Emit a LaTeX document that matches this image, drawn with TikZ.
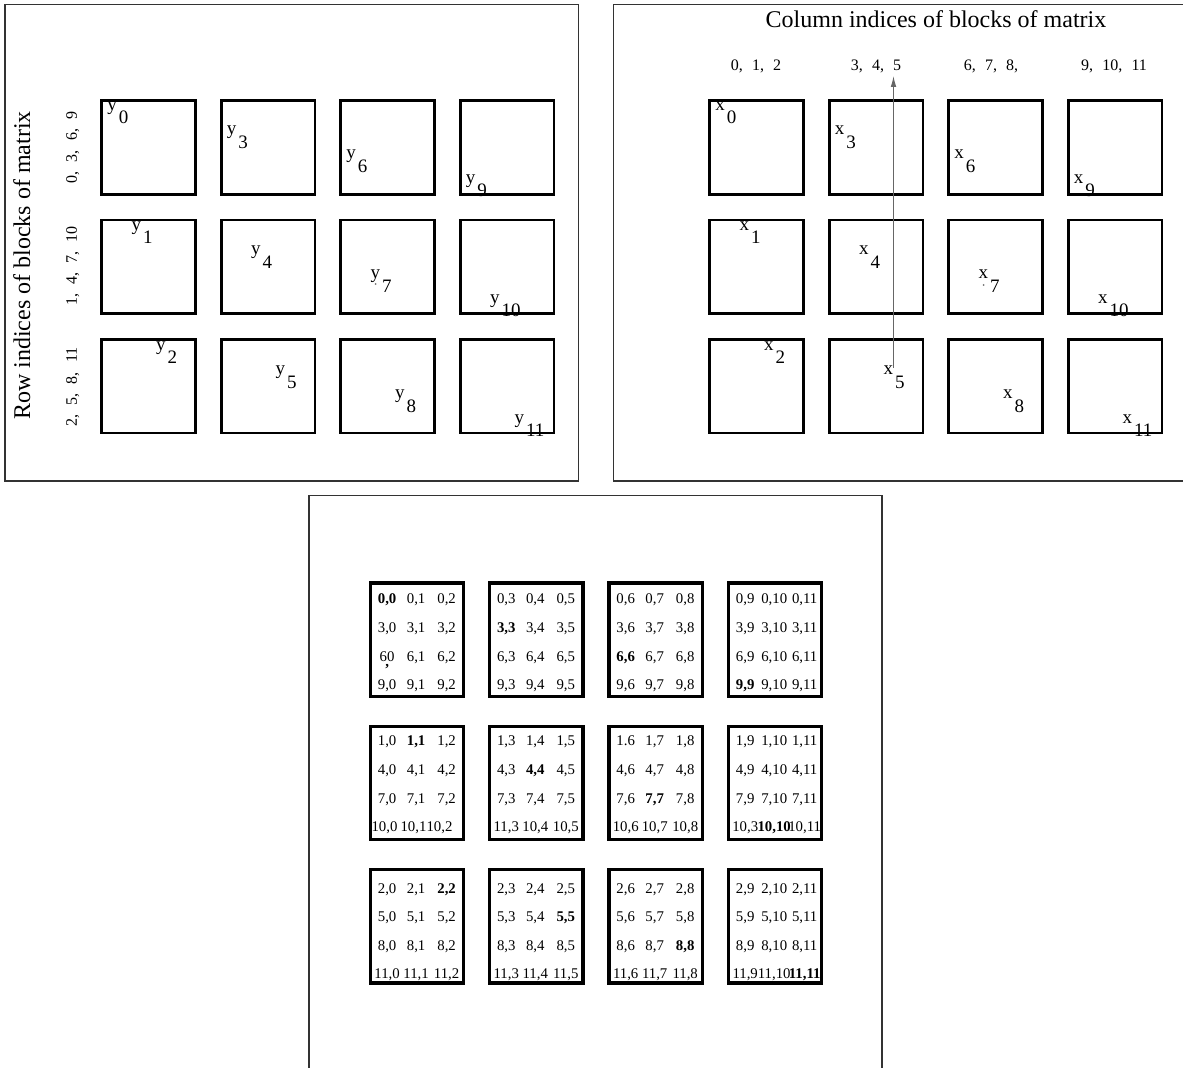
\documentclass[tikz,border=0pt]{standalone}
\usepackage{fontspec}
\setmainfont{Liberation Serif}
\usetikzlibrary{arrows.meta}
\newcommand\gp{\hspace{4.6pt}}
\newcommand\trio[6]{%
  \node[cell] (#1a) at ({#2-30},#3) {#4};
  \node[cell] (#1b) at ({#2-1},#3) {#5};
  \node[cell] (#1c) at ({#2+29.5},#3) {#6};}
\begin{document}
\begin{tikzpicture}[x=0.5pt,y=-0.5pt,
  frame/.style={draw=black!80, line width=0.55pt},
  tbox/.style={draw=black, line width=1.35pt, minimum width=46.85pt, minimum height=46.75pt, inner sep=0pt, outer sep=0pt},
  gbox/.style={draw=black, line width=1.6pt, minimum width=46.65pt, minimum height=56.75pt, inner sep=0pt, outer sep=0pt},
  lett/.style={font=\fontsize{9.5}{9.5}\selectfont, anchor=base west, inner sep=0pt},
  subs/.style={font=\fontsize{9.5}{9.5}\selectfont, anchor=base west, inner sep=0pt},
  idx/.style={font=\fontsize{8}{8}\selectfont, anchor=base, inner sep=0pt},
  big/.style={font=\fontsize{12}{12}\selectfont, anchor=base, inner sep=0pt},
  cell/.style={font=\fontsize{7.4}{7.4}\selectfont, anchor=base, inner sep=0pt},
  arr/.style={draw=black!60, line width=0.5pt, -{Latex[length=5.5pt,width=2.8pt]}}
]
\useasboundingbox (0,0) rectangle (1183,1068);
% frames
\draw[frame] (5,4.3) rectangle (578.7,481);
\draw[frame] (1190,4.3) -- (613.3,4.3) -- (613.3,481) -- (1190,481);
\draw[frame] (309,1075) -- (309,495.7) -- (882,495.7) -- (882,1075);
% titles
\node[big] (ctitle) at (936,27.3) {Column indices of blocks of matrix};
\node[big, rotate=90] (rtitle) at (30,265.5) {Row indices of blocks of matrix};
% row index labels
\node[idx, rotate=90] (ri0) at (76.8,147.5) {0,\gp3,\gp6,\gp9};
\node[idx, rotate=90] (ri1) at (76.8,266) {1,\gp4,\gp7,\gp10};
\node[idx, rotate=90] (ri2) at (76.8,387) {2,\gp5,\gp8,\gp11};
% column index labels
\node[idx] (ci0) at (756,71) {0,\gp1,\gp2};
\node[idx] (ci1) at (876,71) {3,\gp4,\gp5};
\node[idx] (ci2) at (991,71) {6,\gp7,\gp8,};
\node[idx] (ci3) at (1114,71) {9,\gp10,\gp11};
% top blocks
\foreach \c in {0,...,3}{
  \foreach \r in {0,1,2}{
    \node[tbox] (L\c\r) at ({148.6+119.5*\c},{147.5+119.4*\r}) {};
    \node[tbox] (R\c\r) at ({756.6+119.5*\c},{147.5+119.4*\r}) {};
    \pgfmathtruncatemacro\k{3*\c+\r}
    \node[lett] (yl\k) at ({107+119.5*\c+24.3*\r},{110.3+24.3*\c+120*\r}) {y};
    \node[subs] (ys\k) at ({118.5+119.5*\c+24.3*\r},{124+24.3*\c+120*\r}) {\k};
    \node[lett] (xl\k) at ({715+119.5*\c+24.3*\r},{110.3+24.3*\c+120*\r}) {x};
    \node[subs] (xs\k) at ({726.5+119.5*\c+24.3*\r},{124+24.3*\c+120*\r}) {\k};
  }
}
\fill[black!55] (375.7,284) circle (0.5pt);
\fill[black!55] (983.6,285) circle (0.5pt);
% arrow
\coordinate (aS) at (893.5,368);
\coordinate (aE) at (893.5,76);
\draw[arr] (aS) -- (aE);
% bottom grid boxes
\node[gbox] (g00) at (417.1,639.75) {};
\node[gbox] (g01) at (536.3,639.75) {};
\node[gbox] (g02) at (655.7,639.75) {};
\node[gbox] (g03) at (775.2,639.75) {};
\node[gbox] (g10) at (417.1,783) {};
\node[gbox] (g11) at (536.3,783) {};
\node[gbox] (g12) at (655.7,783) {};
\node[gbox] (g13) at (775.2,783) {};
\node[gbox] (g20) at (417.1,926.25) {};
\node[gbox] (g21) at (536.3,926.25) {};
\node[gbox] (g22) at (655.7,926.25) {};
\node[gbox] (g23) at (775.2,926.25) {};
% block row 0
\trio{c00r0}{417.1}{603.8}{\textbf{0,0}}{0,1}{0,2}
\trio{c00r1}{417.1}{632.8}{3,0}{3,1}{3,2}
\node[cell] (c00r2a) at (387.1,661.1) {60};
\node[cell] (c00r2m) at (387.1,667) {\textbf{,}};
\node[cell] (c00r2b) at (416.1,661.1) {6,1};
\node[cell] (c00r2c) at (446.6,661.1) {6,2};
\trio{c00r3}{417.1}{689.6}{9,0}{9,1}{9,2}
\trio{c01r0}{536.3}{603.8}{0,3}{0,4}{0,5}
\trio{c01r1}{536.3}{632.8}{\textbf{3,3}}{3,4}{3,5}
\trio{c01r2}{536.3}{661.1}{6,3}{6,4}{6,5}
\trio{c01r3}{536.3}{689.6}{9,3}{9,4}{9,5}
\trio{c02r0}{655.7}{603.8}{0,6}{0,7}{0,8}
\trio{c02r1}{655.7}{632.8}{3,6}{3,7}{3,8}
\trio{c02r2}{655.7}{661.1}{\textbf{6,6}}{6,7}{6,8}
\trio{c02r3}{655.7}{689.6}{9,6}{9,7}{9,8}
\trio{c03r0}{775.2}{603.8}{0,9}{0,10}{0,11}
\trio{c03r1}{775.2}{632.8}{3,9}{3,10}{3,11}
\trio{c03r2}{775.2}{661.1}{6,9}{6,10}{6,11}
\trio{c03r3}{775.2}{689.6}{\textbf{9,9}}{9,10}{9,11}
% block row 1
\trio{c10r0}{417.1}{745.4}{1,0}{\textbf{1,1}}{1,2}
\trio{c10r1}{417.1}{774.4}{4,0}{4,1}{4,2}
\trio{c10r2}{417.1}{803.4}{7,0}{7,1}{7,2}
\node[cell] (c10r3a) at (384.5,831.8) {10,0};
\node[cell] (c10r3b) at (413.5,831.8) {10,1};
\node[cell] (c10r3c) at (439.5,831.8) {10,2};
\trio{c11r0}{536.3}{745.4}{1,3}{1,4}{1,5}
\trio{c11r1}{536.3}{774.4}{4,3}{\textbf{4,4}}{4,5}
\trio{c11r2}{536.3}{803.4}{7,3}{7,4}{7,5}
\trio{c11r3}{536.3}{831.8}{11,3}{10,4}{10,5}
\trio{c12r0}{655.7}{745.4}{1.6}{1,7}{1,8}
\trio{c12r1}{655.7}{774.4}{4,6}{4,7}{4,8}
\trio{c12r2}{655.7}{803.4}{7,6}{\textbf{7,7}}{7,8}
\trio{c12r3}{655.7}{831.8}{10,6}{10,7}{10,8}
\trio{c13r0}{775.2}{745.4}{1,9}{1,10}{1,11}
\trio{c13r1}{775.2}{774.4}{4,9}{4,10}{4,11}
\trio{c13r2}{775.2}{803.4}{7,9}{7,10}{7,11}
\trio{c13r3}{775.2}{831.8}{10,3}{\textbf{10,10}}{10,11}
% block row 2
\trio{c20r0}{417.1}{893.1}{2,0}{2,1}{\textbf{2,2}}
\trio{c20r1}{417.1}{921.8}{5,0}{5,1}{5,2}
\trio{c20r2}{417.1}{950.1}{8,0}{8,1}{8,2}
\trio{c20r3}{417.1}{978.4}{11,0}{11,1}{11,2}
\trio{c21r0}{536.3}{893.1}{2,3}{2,4}{2,5}
\trio{c21r1}{536.3}{921.8}{5,3}{5,4}{\textbf{5,5}}
\trio{c21r2}{536.3}{950.1}{8,3}{8,4}{8,5}
\trio{c21r3}{536.3}{978.4}{11,3}{11,4}{11,5}
\trio{c22r0}{655.7}{893.1}{2,6}{2,7}{2,8}
\trio{c22r1}{655.7}{921.8}{5,6}{5,7}{5,8}
\trio{c22r2}{655.7}{950.1}{8,6}{8,7}{\textbf{8,8}}
\trio{c22r3}{655.7}{978.4}{11,6}{11,7}{11,8}
\trio{c23r0}{775.2}{893.1}{2,9}{2,10}{2,11}
\trio{c23r1}{775.2}{921.8}{5,9}{5,10}{5,11}
\trio{c23r2}{775.2}{950.1}{8,9}{8,10}{8,11}
\trio{c23r3}{775.2}{978.4}{11,9}{11,10}{\textbf{11,11}}
\end{tikzpicture}
\end{document}
